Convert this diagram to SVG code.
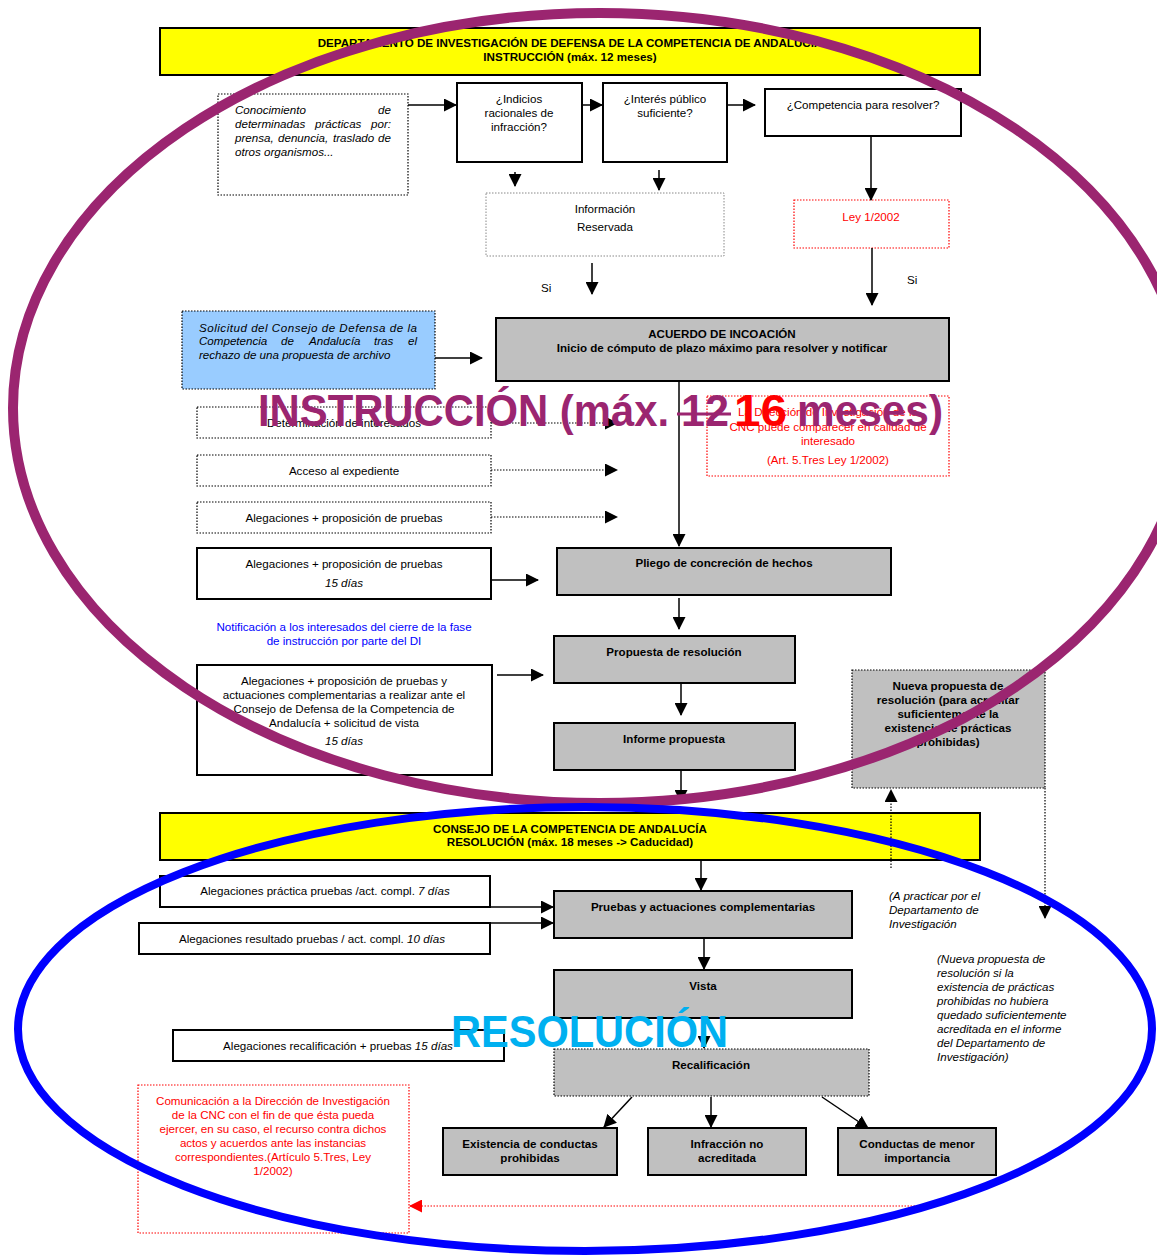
<svg xmlns="http://www.w3.org/2000/svg" width="1157" height="1255" viewBox="0 0 1157 1255">
<defs>
<marker id="ah" markerUnits="userSpaceOnUse" markerWidth="13" markerHeight="13" refX="12" refY="6.5" orient="auto"><path d="M0,0 L13,6.5 L0,13 z" fill="#000"/></marker>
<marker id="ahr" markerUnits="userSpaceOnUse" markerWidth="13" markerHeight="13" refX="12" refY="6.5" orient="auto"><path d="M0,0 L13,6.5 L0,13 z" fill="#FF0000"/></marker>
<style>
text{font-family:"Liberation Sans",Arial,sans-serif;font-size:11.6px;fill:#000}
.c{text-anchor:middle}
.e{text-anchor:end}
.b{font-weight:bold}
.i{font-style:italic}
text.red{fill:#FF0000}
text.blu{fill:#0000FF}
.box{fill:#fff;stroke:#000;stroke-width:2}
.gbox{fill:#C0C0C0;stroke:#000;stroke-width:2}
.gdot{fill:#C0C0C0;stroke:#000;stroke-width:1.2;stroke-dasharray:1.5 1.5}
.dot{fill:#fff;stroke:#000;stroke-width:1.2;stroke-dasharray:1.5 1.5}
.ydot{fill:#fff;stroke:#888;stroke-width:1;stroke-dasharray:1.5 1.5}
.rdot{fill:#fff;stroke:#FF0000;stroke-width:1.2;stroke-dasharray:1.5 1.5}
.hdr{fill:#FFFF00;stroke:#000;stroke-width:2}
.ln{fill:none;stroke:#000;stroke-width:1.5;marker-end:url(#ah)}
.dl{fill:none;stroke:#000;stroke-width:1.2;stroke-dasharray:1.5 1.5;marker-end:url(#ah)}
.rl{fill:none;stroke:#FF0000;stroke-width:1.2;stroke-dasharray:1.5 1.5;marker-end:url(#ahr)}
text.big{font-family:"Liberation Sans",Arial,sans-serif;font-size:44px;font-weight:bold}
text.pur{fill:#9B2570}
text.rd{fill:#FF0000}
text.cy{fill:#00B0F0}
</style>
</defs>
<rect width="1157" height="1255" fill="#fff"/>

<g id="hdr-instruccion">
<rect class="hdr" x="160" y="28" width="820" height="47"/>
<text class="c b" x="570" y="47">DEPARTAMENTO DE INVESTIGACIÓN DE DEFENSA DE LA COMPETENCIA DE ANDALUCIA</text>
<text class="c b" x="570" y="61">INSTRUCCIÓN (máx. 12 meses)</text>
</g>

<g id="conocimiento">
<rect class="dot" x="218" y="94" width="190" height="101"/>
<text class="i" x="235" y="114">Conocimiento</text><text class="i e" x="391" y="114">de</text>
<text class="i" x="235" y="128">determinadas</text><text class="i" x="315" y="128">prácticas</text><text class="i e" x="391" y="128">por:</text>
<text class="i" x="235" y="142">prensa,</text><text class="i" x="278" y="142">denuncia,</text><text class="i" x="333" y="142">traslado</text><text class="i e" x="391" y="142">de</text>
<text class="i" x="235" y="156">otros organismos...</text>
</g>

<g id="indicios">
<rect class="box" x="457" y="83" width="125" height="79"/>
<text class="c" x="519" y="103">¿Indicios</text>
<text class="c" x="519" y="117">racionales de</text>
<text class="c" x="519" y="131">infracción?</text>
</g>

<g id="interes">
<rect class="box" x="603" y="83" width="124" height="79"/>
<text class="c" x="665" y="103">¿Interés público</text>
<text class="c" x="665" y="117">suficiente?</text>
</g>

<g id="competencia">
<rect class="box" x="765" y="89" width="196" height="47"/>
<text class="c" x="863" y="109">¿Competencia para resolver?</text>
</g>

<g id="ley">
<rect class="rdot" x="794" y="200" width="155" height="48"/>
<text class="c red" x="871" y="221">Ley 1/2002</text>
</g>

<g id="info-reservada">
<rect class="ydot" x="486" y="193" width="238" height="63"/>
<text class="c" x="605" y="213">Información</text>
<text class="c" x="605" y="231">Reservada</text>
</g>

<g id="solicitud">
<rect x="182" y="311" width="253" height="78" fill="#99CCFF" stroke="#000" stroke-width="1.2" stroke-dasharray="1.5 1.5"/>
<text class="i" x="199" y="332" textLength="218" lengthAdjust="spacing">Solicitud del Consejo de Defensa de la</text>
<text class="i" x="199" y="345">Competencia</text><text class="i" x="281" y="345">de</text><text class="i" x="309" y="345">Andalucía</text><text class="i" x="374" y="345">tras</text><text class="i e" x="417" y="345">el</text>
<text class="i" x="199" y="359">rechazo de una propuesta de archivo</text>
</g>

<g id="acuerdo">
<rect class="gbox" x="496" y="318" width="453" height="63"/>
<text class="c b" x="722" y="338">ACUERDO DE INCOACIÓN</text>
<text class="c b" x="722" y="352">Inicio de cómputo de plazo máximo para resolver y notificar</text>
</g>

<g id="determinacion">
<rect class="dot" x="197" y="407" width="294" height="31"/>
<text class="c" x="344" y="427">Determinación de interesados</text>
</g>
<g id="acceso">
<rect class="dot" x="197" y="455" width="294" height="31"/>
<text class="c" x="344" y="475">Acceso al expediente</text>
</g>
<g id="alegaciones-1">
<rect class="dot" x="197" y="502" width="294" height="31"/>
<text class="c" x="344" y="522">Alegaciones + proposición de pruebas</text>
</g>

<g id="nota-direccion">
<rect class="rdot" x="707" y="396" width="242" height="80"/>
<text class="c red" x="828" y="416">La Dirección de Investigación de la</text>
<text class="c red" x="828" y="431">CNC puede comparecer en calidad de</text>
<text class="c red" x="828" y="445">interesado</text>
<text class="c red" x="828" y="464">(Art. 5.Tres Ley 1/2002)</text>
</g>

<g id="alegaciones-2">
<rect class="box" x="197" y="548" width="294" height="51"/>
<text class="c" x="344" y="568">Alegaciones + proposición de pruebas</text>
<text class="c i" x="344" y="587">15 días</text>
</g>

<g id="pliego">
<rect class="gbox" x="557" y="548" width="334" height="47"/>
<text class="c b" x="724" y="567">Pliego de concreción de hechos</text>
</g>

<g id="notificacion">
<text class="c blu" x="344" y="631">Notificación a los interesados del cierre de la fase</text>
<text class="c blu" x="344" y="645">de instrucción por parte del DI</text>
</g>

<g id="propuesta">
<rect class="gbox" x="554" y="636" width="241" height="47"/>
<text class="c b" x="674" y="656">Propuesta de resolución</text>
</g>

<g id="alegaciones-3">
<rect class="box" x="197" y="665" width="295" height="110"/>
<text class="c" x="344" y="685">Alegaciones + proposición de pruebas y</text>
<text class="c" x="344" y="699">actuaciones complementarias  a realizar ante el</text>
<text class="c" x="344" y="713">Consejo de Defensa de la Competencia de</text>
<text class="c" x="344" y="727">Andalucía + solicitud de vista</text>
<text class="c i" x="344" y="745">15 días</text>
</g>

<g id="informe">
<rect class="gbox" x="554" y="723" width="241" height="47"/>
<text class="c b" x="674" y="743">Informe propuesta</text>
</g>

<g id="nueva-propuesta">
<rect class="gdot" x="852" y="670" width="193" height="118"/>
<text class="c b" x="948" y="690">Nueva propuesta de</text>
<text class="c b" x="948" y="704">resolución  (para acreditar</text>
<text class="c b" x="948" y="718">suficientemente la</text>
<text class="c b" x="948" y="732">existencia de prácticas</text>
<text class="c b" x="948" y="746">prohibidas)</text>
</g>

<g id="hdr-resolucion">
<rect class="hdr" x="160" y="813" width="820" height="47"/>
<text class="c b" x="570" y="833">CONSEJO DE LA COMPETENCIA DE ANDALUCÍA</text>
<text class="c b" x="570" y="846">RESOLUCIÓN (máx. 18 meses -&gt; Caducidad)</text>
</g>

<g id="alg-practica">
<rect class="box" x="160" y="876" width="330" height="31"/>
<text class="c" x="325" y="895">Alegaciones práctica pruebas /act. compl. <tspan class="i">7 días</tspan></text>
</g>
<g id="alg-resultado">
<rect class="box" x="139" y="923" width="351" height="31"/>
<text class="c" x="312" y="943">Alegaciones resultado pruebas / act. compl. <tspan class="i">10 días</tspan></text>
</g>

<g id="pruebas">
<rect class="gbox" x="554" y="891" width="298" height="47"/>
<text class="c b" x="703" y="911">Pruebas y actuaciones complementarias</text>
</g>

<g id="nota-practicar">
<text class="i" x="889" y="900">(A practicar por el</text>
<text class="i" x="889" y="914">Departamento de</text>
<text class="i" x="889" y="928">Investigación</text>
</g>

<g id="vista">
<rect class="gbox" x="554" y="970" width="298" height="48"/>
<text class="c b" x="703" y="990">Vista</text>
</g>

<g id="nota-nueva">
<text class="i" x="937" y="963">(Nueva propuesta de</text>
<text class="i" x="937" y="977">resolución si la</text>
<text class="i" x="937" y="991">existencia de prácticas</text>
<text class="i" x="937" y="1005">prohibidas no hubiera</text>
<text class="i" x="937" y="1019">quedado suficientemente</text>
<text class="i" x="937" y="1033">acreditada en el informe</text>
<text class="i" x="937" y="1047">del Departamento de</text>
<text class="i" x="937" y="1061">Investigación)</text>
</g>

<g id="alg-recalificacion">
<rect class="box" x="173" y="1030" width="331" height="31"/>
<text class="c" x="338" y="1050">Alegaciones recalificación + pruebas <tspan class="i">15 días</tspan></text>
</g>

<g id="recalificacion">
<rect class="gdot" x="554" y="1049" width="315" height="47"/>
<text class="c b" x="711" y="1069">Recalificación</text>
</g>

<g id="existencia">
<rect class="gbox" x="443" y="1128" width="174" height="47"/>
<text class="c b" x="530" y="1148">Existencia de conductas</text>
<text class="c b" x="530" y="1162">prohibidas</text>
</g>
<g id="infraccion">
<rect class="gbox" x="648" y="1128" width="158" height="47"/>
<text class="c b" x="727" y="1148">Infracción no</text>
<text class="c b" x="727" y="1162">acreditada</text>
</g>
<g id="menor">
<rect class="gbox" x="838" y="1128" width="158" height="47"/>
<text class="c b" x="917" y="1148">Conductas de menor</text>
<text class="c b" x="917" y="1162">importancia</text>
</g>

<g id="comunicacion">
<rect class="rdot" x="138" y="1085" width="271" height="148"/>
<text class="c red" x="273" y="1105">Comunicación a la Dirección de Investigación</text>
<text class="c red" x="273" y="1119">de la CNC con el fin de que ésta pueda</text>
<text class="c red" x="273" y="1133">ejercer, en su caso, el recurso contra dichos</text>
<text class="c red" x="273" y="1147">actos y acuerdos ante las instancias</text>
<text class="c red" x="273" y="1161">correspondientes.(Artículo 5.Tres, Ley</text>
<text class="c red" x="273" y="1175">1/2002)</text>
</g>

<g id="connectors">
<path class="ln" d="M408,105 H456"/>
<path class="ln" d="M582,105 H602"/>
<path class="ln" d="M727,105 H755"/>
<path class="ln" d="M515,172 V186"/>
<path class="ln" d="M659,170 V190"/>
<path class="ln" d="M871,136 V200"/>
<path class="ln" d="M872,248 V305"/>
<path class="ln" d="M592,263 V294"/>
<path class="ln" d="M435,358 H482"/>
<path class="ln" d="M679,381 V546"/>
<path class="dl" d="M491,423 H617"/>
<path class="dl" d="M491,470 H617"/>
<path class="dl" d="M491,517 H617"/>
<path class="ln" d="M491,580 H538"/>
<path class="ln" d="M679,598 V629"/>
<path class="ln" d="M681,683 V715"/>
<path class="ln" d="M497,675 H543"/>
<path class="ln" d="M681,770 V802"/>
<path class="ln" d="M701,860 V890"/>
<path class="ln" d="M490,907 H553"/>
<path class="ln" d="M490,923 H553"/>
<path class="ln" d="M704,938 V969"/>
<path class="ln" d="M704,1018 V1048"/>
<path class="ln" d="M632,1097 L604,1127"/>
<path class="ln" d="M711,1097 V1127"/>
<path class="ln" d="M822,1097 L868,1128"/>
<path class="dl" d="M891,868 V790"/>
<path class="dl" d="M1045,788 V918"/>
<path class="rl" d="M930,1206 H410"/>
<text x="541" y="292">Si</text>
<text x="907" y="284">Si</text>
</g>

<g id="phase-overlays">
<ellipse cx="600" cy="408" rx="587" ry="395" fill="none" stroke="#9B2570" stroke-width="10"/>
<ellipse cx="585" cy="1029" rx="567" ry="222" fill="none" stroke="#0000FF" stroke-width="8"/>
<text class="big pur" x="258" y="426" textLength="411" lengthAdjust="spacingAndGlyphs">INSTRUCCIÓN (máx.</text>
<text class="big pur" x="681" y="426" textLength="48" lengthAdjust="spacingAndGlyphs">12</text>
<path d="M677,414 H731" stroke="#9B2570" stroke-width="3"/>
<text class="big rd" x="734" y="426" textLength="53" lengthAdjust="spacingAndGlyphs">16</text>
<text class="big pur" x="797" y="426" textLength="146" lengthAdjust="spacingAndGlyphs">meses)</text>
<text class="big cy" x="451" y="1047" textLength="277" lengthAdjust="spacingAndGlyphs">RESOLUCIÓN</text>
</g>
</svg>
